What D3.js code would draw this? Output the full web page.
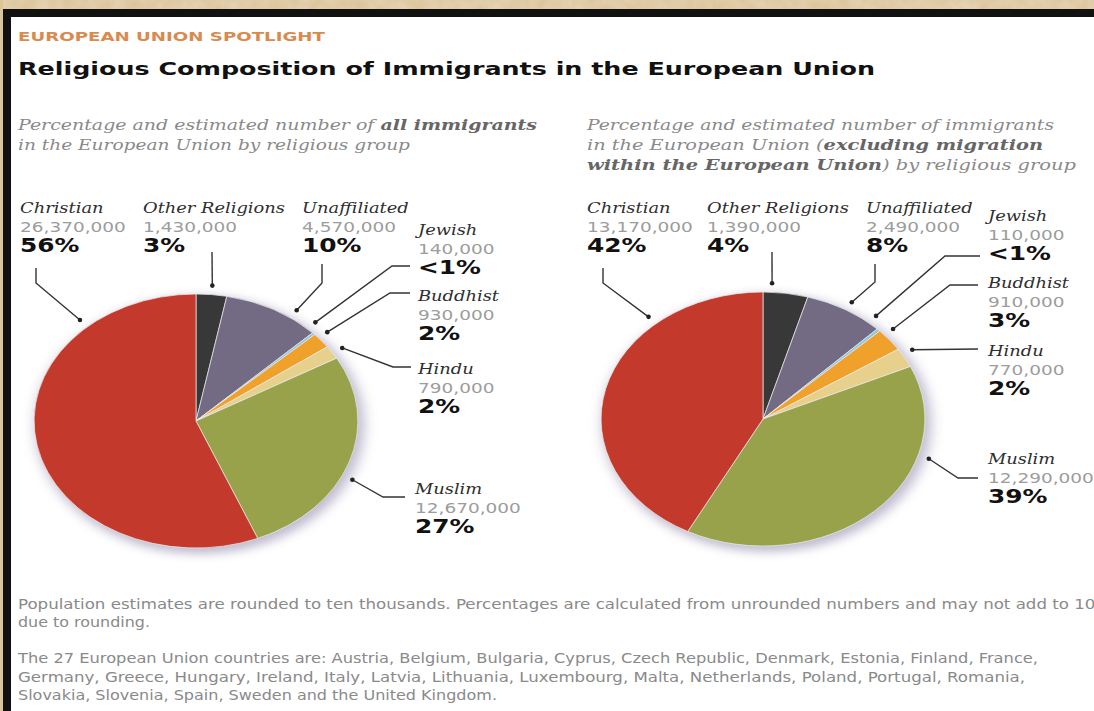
<!DOCTYPE html>
<meta charset="utf-8">
<head>
  <title>Religious Composition of Immigrants in the European Union</title>
</head>
<style>
  body { margin: 0; background: #fff; }
  svg { display: block; }
  .kicker { font: bold 12.5px "DejaVu Sans", Verdana, sans-serif; fill: #d98a4e; }
  .title { font: bold 18.5px "DejaVu Sans", Verdana, sans-serif; fill: #111; }
  .sub { font: italic 14.5px "DejaVu Serif", Georgia, serif; fill: #8a8a8a; }
  .sub .b { font-weight: bold; fill: #666; }
  .name { font: italic 14px "DejaVu Serif", Georgia, serif; fill: #2e2e2e; }
  .num { font: 14.5px "DejaVu Sans", Verdana, sans-serif; fill: #9c9c9c; }
  .pct { font: bold 19.5px "DejaVu Sans", Verdana, sans-serif; fill: #111; }
  .note { font: 14px "DejaVu Sans", Verdana, sans-serif; fill: #8a8a8a; }
  .leader { fill: none; stroke: #333; stroke-width: 1.4; }
</style>
<body>
<script src="https://cdn.jsdelivr.net/npm/d3@7"></script>
<script>
// data, in pie order (clockwise from 12 o'clock)
var religions = ["Other Religions", "Unaffiliated", "Jewish", "Buddhist", "Hindu", "Muslim", "Christian"];
var allImmigrants = [1430000, 4570000, 140000, 930000, 790000, 12670000, 26370000];
var nonEUImmigrants = [1390000, 2490000, 110000, 910000, 770000, 12290000, 13170000];
var colors = ["#383838", "#726b83", "#8ec6e0", "#f0a12c", "#e7cf8c", "#97a24b", "#c3392b"];

var footnotes = [
  "Population estimates are rounded to ten thousands. Percentages are calculated from unrounded numbers and may not add to 100",
  "due to rounding.",
  "The 27 European Union countries are: Austria, Belgium, Bulgaria, Cyprus, Czech Republic, Denmark, Estonia, Finland, France,",
  "Germany, Greece, Hungary, Ireland, Italy, Latvia, Lithuania, Luxembourg, Malta, Netherlands, Poland, Portugal, Romania,",
  "Slovakia, Slovenia, Spain, Sweden and the United Kingdom."
];

var W = 1094, H = 711;
var SX = 1.275;   // the picture is stretched sideways
var R = 127;

var svg = d3.select("body").append("svg")
    .attr("width", W)
    .attr("height", H);

var defs = svg.append("defs");
defs.append("filter").attr("id", "glow")
    .attr("x", "-20%").attr("y", "-20%").attr("width", "140%").attr("height", "140%")
  .append("feGaussianBlur").attr("stdDeviation", 5);

// mottled parchment
var paper = defs.append("filter").attr("id", "paper")
    .attr("x", 0).attr("y", 0).attr("width", "100%").attr("height", "100%");
paper.append("feTurbulence").attr("type", "fractalNoise")
    .attr("baseFrequency", 0.08).attr("numOctaves", 3).attr("seed", 4).attr("result", "noise");
paper.append("feColorMatrix").attr("in", "noise").attr("type", "matrix")
    .attr("values", "0 0 0 0 0.86  0 0 0 0 0.77  0 0 0 0 0.60  0.6 0 0 0 -0.1")
    .attr("result", "tint");
paper.append("feComposite").attr("in", "tint").attr("in2", "SourceGraphic").attr("operator", "atop");

// frame: parchment edge + black bar
svg.append("rect").attr("width", W).attr("height", H).attr("fill", "#fff");
svg.append("rect").attr("width", W).attr("height", 9).attr("fill", "#dcc59c").attr("filter", "url(#paper)");
svg.append("rect").attr("width", 3).attr("height", H).attr("fill", "#dcc59c");
svg.append("rect").attr("x", 3).attr("y", 9).attr("width", W - 3).attr("height", 8).attr("fill", "#111");
svg.append("rect").attr("x", 3).attr("y", 9).attr("width", 8).attr("height", H - 9).attr("fill", "#111");

// headings
svg.append("text").attr("class", "kicker")
    .attr("x", 18).attr("y", 41)
    .attr("textLength", 307).attr("lengthAdjust", "spacingAndGlyphs")
    .text("EUROPEAN UNION SPOTLIGHT");

svg.append("text").attr("class", "title")
    .attr("x", 18).attr("y", 75)
    .attr("textLength", 857).attr("lengthAdjust", "spacingAndGlyphs")
    .text("Religious Composition of Immigrants in the European Union");

function subLine(x, y, w, parts) {
  var t = svg.append("text").attr("class", "sub")
      .attr("x", x).attr("y", y)
      .attr("textLength", w).attr("lengthAdjust", "spacingAndGlyphs");
  parts.forEach(function(p) {
    t.append("tspan").attr("class", p[1] ? "b" : null).text(p[0]);
  });
}
subLine(18, 130, 519, [["Percentage and estimated number of ", 0], ["all immigrants", 1]]);
subLine(18, 150, 392, [["in the European Union by religious group", 0]]);
subLine(587, 130, 467, [["Percentage and estimated number of immigrants", 0]]);
subLine(587, 150, 456, [["in the European Union (", 0], ["excluding migration", 1]]);
subLine(587, 170, 489, [["within the European Union", 1], [") by religious group", 0]]);

// callout layout: dot angle on pie edge (deg), leader bends, label anchor
var pies = [
  { cx: 196, cy: 421, values: allImmigrants,
    callouts: [
      { a: 5.4,   path: [[212, 252]],             label: [143, 213] },
      { a: 35.5,  path: [[322, 283], [322, 264]], label: [302, 213] },
      { a: 43.5,  path: [[392, 266], [410, 266]], label: [418, 235] },
      { a: 49.2,  path: [[390, 293], [410, 293]], label: [418, 301] },
      { a: 57.5,  path: [[393, 367], [411, 367]], label: [418, 374] },
      { a: 115.6, path: [[383, 497], [405, 497]], label: [415, 494] },
      { a: 318,   path: [[36, 283], [36, 268]],   label: [20, 213] }
    ] },
  { cx: 763, cy: 419, values: nonEUImmigrants,
    callouts: [
      { a: 3,     path: [[772, 252]],             label: [707, 213] },
      { a: 30.8,  path: [[875, 282], [875, 264]], label: [866, 213] },
      { a: 40.7,  path: [[945, 256], [980, 256]], label: [988, 221] },
      { a: 48.6,  path: [[950, 285], [978, 285]], label: [988, 288] },
      { a: 59.4,  path: [[978, 349]],             label: [988, 356] },
      { a: 107,   path: [[958, 478], [978, 478]], label: [988, 464] },
      { a: 318.7, path: [[603, 283], [603, 268]], label: [587, 213] }
    ] }
];

var pie = d3.pie().sort(null).value(function(d) { return d; });
var arc = d3.arc().innerRadius(0).outerRadius(R);
var fmtNum = d3.format(",");

pies.forEach(function(p) {
  var total = d3.sum(p.values);
  var g = svg.append("g")
      .attr("transform", "translate(" + p.cx + "," + p.cy + ") scale(" + SX + ",1)");

  g.append("circle")
      .attr("cx", 3).attr("cy", 4).attr("r", R + 2)
      .attr("fill", "#aaa4bf").attr("opacity", 0.75)
      .attr("filter", "url(#glow)");

  g.selectAll("path.slice")
      .data(pie(p.values))
    .enter().append("path")
      .attr("class", "slice")
      .attr("d", arc)
      .attr("fill", function(d, i) { return colors[i]; })
      .attr("stroke", "#eeeeee")
      .attr("stroke-width", 0.7)
      .attr("vector-effect", "non-scaling-stroke");

  p.callouts.forEach(function(c, i) {
    var rad = c.a * Math.PI / 180, rr = R + 9;
    var dot = [p.cx + Math.sin(rad) * rr * SX, p.cy - Math.cos(rad) * rr];
    svg.append("path").attr("class", "leader")
        .attr("d", d3.line()([dot].concat(c.path)));
    svg.append("circle")
        .attr("cx", dot[0]).attr("cy", dot[1]).attr("r", 2.3)
        .attr("fill", "#222");

    var share = p.values[i] / total * 100;
    var lg = svg.append("g")
        .attr("transform", "translate(" + c.label[0] + "," + c.label[1] + ") scale(" + SX + ",1)");
    lg.append("text").attr("class", "name").text(religions[i]);
    lg.append("text").attr("class", "num").attr("y", 19).text(fmtNum(p.values[i]));
    lg.append("text").attr("class", "pct").attr("y", 39)
        .text(share < 1 ? "<1%" : Math.round(share) + "%");
  });
});

// footnotes
var noteY = [609, 627, 663, 682, 700],
    noteW = [1088, 132, 1020, 1007, 479];
svg.selectAll("text.note")
    .data(footnotes)
  .enter().append("text")
    .attr("class", "note")
    .attr("x", 18)
    .attr("y", function(d, i) { return noteY[i]; })
    .attr("textLength", function(d, i) { return noteW[i]; })
    .attr("lengthAdjust", "spacingAndGlyphs")
    .text(function(d) { return d; });
</script>
</body>
